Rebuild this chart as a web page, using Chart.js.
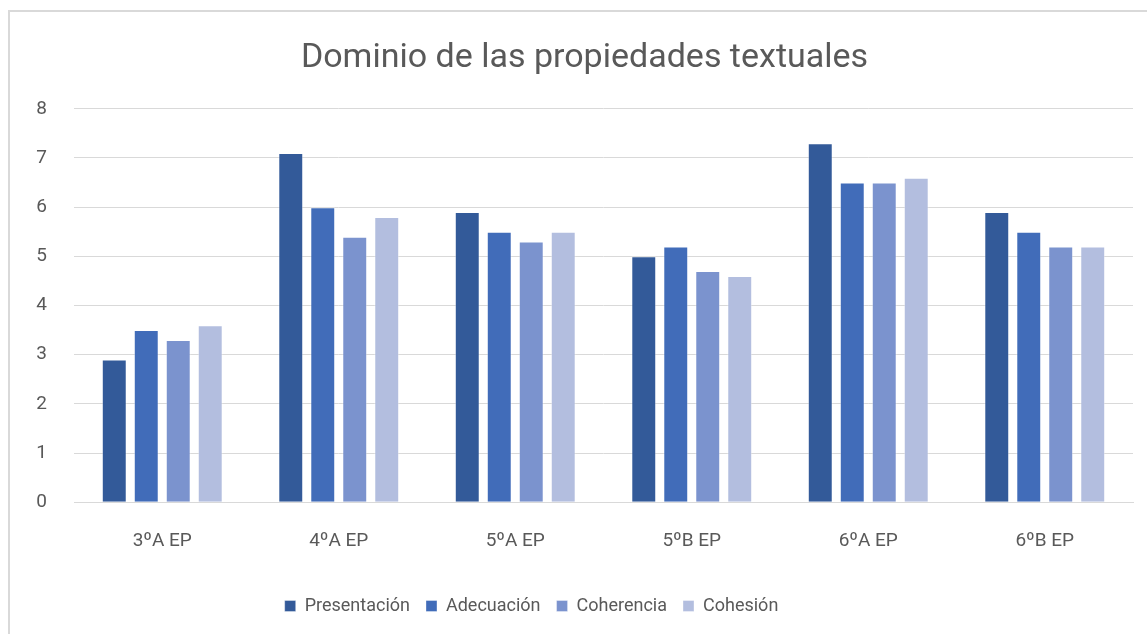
<!DOCTYPE html>
<html>
<head>
<meta charset="utf-8">
<script src="https://cdn.jsdelivr.net/npm/chart.js@4"></script>
<style>
  html, body { margin: 0; padding: 0; background: #fff; overflow: hidden; }
  #frame {
    position: absolute; left: 8px; top: 10px;
    width: 1150px; height: 640px;
    border: 2px solid #d9d9d9; box-sizing: border-box;
  }
  #wrap { position: absolute; left: 10px; top: 12px; width: 1137px; height: 622px; }
</style>
</head>
<body>
<div id="frame"></div>
<div id="wrap"><canvas id="chart"></canvas></div>
<script>
// groups
const cursos = ["3ºA EP", "4ºA EP", "5ºA EP", "5ºB EP", "6ºA EP", "6ºB EP"];

// series values
const presentacion = [2.9, 7.1, 5.9, 5.0, 7.3, 5.9];
const adecuacion   = [3.5, 6.0, 5.5, 5.2, 6.5, 5.5];
const coherencia   = [3.3, 5.4, 5.3, 4.7, 6.5, 5.2];
const cohesion     = [3.6, 5.8, 5.5, 4.6, 6.6, 5.2];

const seriesNames = ["Presentación", "Adecuación", "Coherencia", "Cohesión"];
const colores = ["#335a99", "#416cb9", "#7b93ce", "#b3bedf"];

const yTicks = [0, 1, 2, 3, 4, 5, 6, 7, 8];

const fontFam = "Roboto, 'Open Sans', sans-serif";
const grey = "#595959";

let allSeries = [presentacion, adecuacion, coherencia, cohesion];
let datasets = [];
for (let i = 0; i < allSeries.length; i++) {
  datasets.push({
    label: seriesNames[i],
    data: allSeries[i],
    backgroundColor: colores[i],
    borderColor: "rgba(255,255,255,0.35)",
    borderWidth: 1,
    barPercentage: 0.78,
    categoryPercentage: 0.725
  });
}

// the original frame runs past the right edge, so the title sits a bit right
// of the canvas centre and the legend a bit left of it
const nudgeBoxes = {
  id: "nudgeBoxes",
  afterLayout(chart) {
    if (chart.titleBlock) {
      chart.titleBlock.left += 13;
      chart.titleBlock.right += 13;
    }
    if (chart.legend) {
      chart.legend.left -= 40;
      chart.legend.right -= 40;
    }
  }
};

const ctx = document.getElementById("chart");
new Chart(ctx, {
  type: "bar",
  data: { labels: cursos, datasets: datasets },
  plugins: [nudgeBoxes],
  options: {
    responsive: true,
    maintainAspectRatio: false,
    animation: false,
    layout: { padding: { left: 0, right: 14, top: 0, bottom: 9 } },
    plugins: {
      title: {
        display: true,
        text: "Dominio de las propiedades textuales",
        color: grey,
        font: { family: fontFam, size: 34, weight: "normal" },
        padding: { top: 26, bottom: 30 }
      },
      legend: {
        position: "bottom",
        labels: {
          color: grey,
          font: { family: fontFam, size: 18 },
          boxWidth: 11,
          boxHeight: 11,
          padding: 16
        }
      },
      tooltip: { enabled: false }
    },
    scales: {
      x: {
        grid: { display: false, drawTicks: false },
        border: { color: "#d9d9d9", width: 1 },
        ticks: { color: grey, font: { family: fontFam, size: 19 }, padding: 28 }
      },
      y: {
        min: 0,
        max: 8,
        afterFit: function (scale) { scale.width = 64; },
        afterBuildTicks: function (scale) {
          scale.ticks = yTicks.map(v => ({ value: v }));
        },
        grid: { color: "#d9d9d9", lineWidth: 1, drawTicks: false },
        border: { display: false },
        ticks: { color: grey, font: { family: fontFam, size: 19 }, padding: 27 }
      }
    }
  }
});
</script>
</body>
</html>
